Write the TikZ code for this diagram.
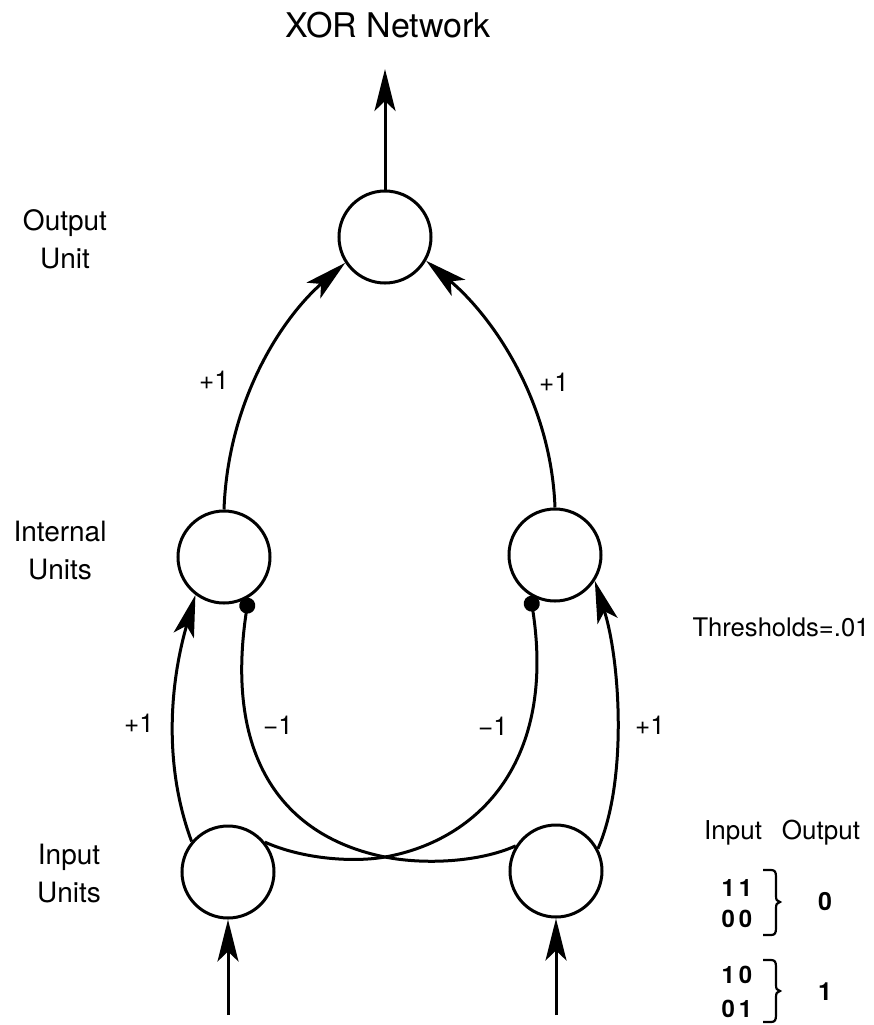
\documentclass[tikz,border=0pt]{standalone}
\usepackage{fontspec}
\setmainfont{TeX Gyre Heros}
\usetikzlibrary{arrows.meta}
\begin{document}
\begin{tikzpicture}[x=0.5pt,y=-0.5pt,
  unit/.style={circle,draw,line width=1.5pt,minimum size=46pt,inner sep=0pt},
  conn/.style={line width=1.5pt},
  arr/.style={conn,-{Stealth[length=21pt,width=10.5pt,inset=5pt]}},
  dotend/.style={conn,-{Circle[length=8pt]}},
  lbl/.style={font=\fontsize{14}{19}\selectfont,align=center,inner sep=0pt},
  wt/.style={font=\fontsize{13}{15}\selectfont,inner sep=0pt},
  hdr/.style={font=\fontsize{13}{15}\selectfont,inner sep=0pt},
  dig/.style={font=\bfseries\fontsize{12}{14}\selectfont,inner sep=0pt},
  outdig/.style={font=\bfseries\fontsize{12.5}{14}\selectfont,inner sep=0pt},
  brk/.style={line width=1.1pt}
]
\useasboundingbox (0,0) rectangle (874,1025);

% units
\node[unit] (O)  at (385,237) {};
\node[unit] (IL) at (224,557) {};
\node[unit] (IR) at (555,555) {};
\node[unit] (NL) at (228,872) {};
\node[unit] (NR) at (556,871) {};

\coordinate (top) at (385,69);
\coordinate (bL) at (228,1015);
\coordinate (bR) at (556,1015);

% output arrow
\draw[arr] (O.north) -- (top);
% input arrows
\draw[arr] (bL) -- (NL.south);
\draw[arr] (bR) -- (NR.south);

% internal -> output
\draw[arr] (IL.north) .. controls (228,400) and (282,318) .. (O.213);
\draw[arr] (IR.north) .. controls (551,400) and (492,316) .. (O.330);

% input -> internal (+1)
\draw[arr] (NL.140) .. controls (165,770) and (168,690) .. (IL.233);
\draw[arr] (NR.28) .. controls (628,780) and (620,660) .. (IR.327);

% inhibitory crossing (-1)
\draw[dotend] (NL.39) .. controls (300,858) and (350,863) .. (385,857)
  .. controls (480,840) and (556,760) .. (IR.239);
\draw[dotend] (NR.148) .. controls (480,862) and (425,865) .. (385,857)
  .. controls (285,837) and (224,760) .. (IL.301);

% labels
\node[font=\fontsize{17}{20}\selectfont,inner sep=0pt] (title) at (388,25) {XOR Network};
\node[lbl] (lo) at (65,239) {Output\\Unit};
\node[lbl] (li) at (60,551) {Internal\\Units};
\node[lbl] (ln) at (69,874) {Input\\Units};
\node[font=\fontsize{12.8}{15}\selectfont,inner sep=0pt] (th) at (781,627) {Thresholds=.01};

\node[wt] (w1) at (214,380) {+1};
\node[wt] (w2) at (554,382) {+1};
\node[wt] (w3) at (139,723) {+1};
\node[wt] (w4) at (650,725) {+1};
\node[wt] (w5) at (278,725) {−1};
\node[wt] (w6) at (493,726) {−1};

% truth table
\node[hdr] (th1) at (733,833) {Input};
\node[hdr] (th2) at (821,833) {Output};
\node[dig] (r1) at (737,888) {1\,1};
\node[dig] (r2) at (737,919) {0\,0};
\node[outdig] (o1) at (825,902) {0};
\node[dig] (r3) at (737,975) {1\,0};
\node[dig] (r4) at (737,1009) {0\,1};
\node[outdig] (o2) at (825,992) {1};

\draw[brk] (763,870) -- (771,870) .. controls (775,870) and (776,872) .. (776,877)
  -- (776,896) .. controls (776,900) and (777,901) .. (780,902)
  .. controls (777,903) and (776,904) .. (776,908)
  -- (776,928) .. controls (776,933) and (775,935) .. (771,935) -- (763,935);
\draw[brk] (763,960) -- (771,960) .. controls (775,960) and (776,962) .. (776,967)
  -- (776,985) .. controls (776,989) and (777,990) .. (780,991)
  .. controls (777,992) and (776,993) .. (776,997)
  -- (776,1015) .. controls (776,1020) and (775,1022) .. (771,1022) -- (763,1022);
\end{tikzpicture}
\end{document}
